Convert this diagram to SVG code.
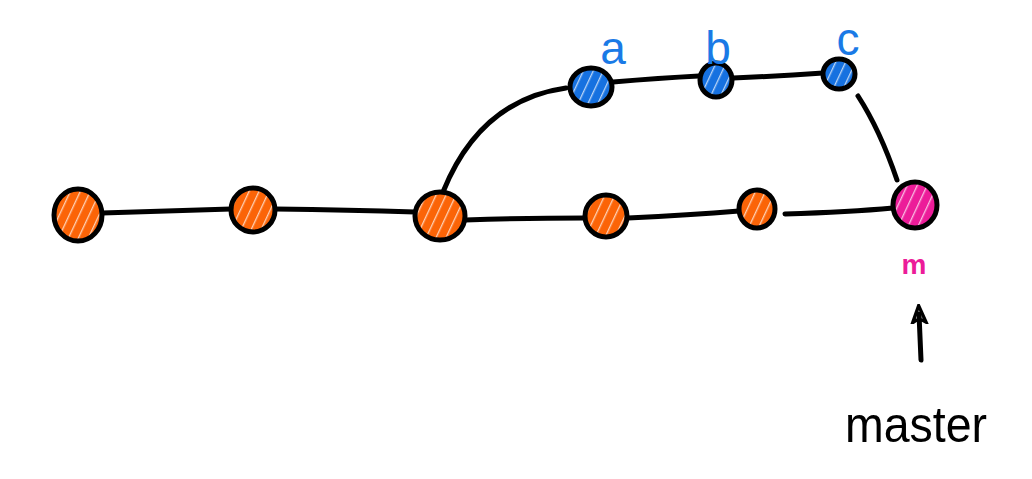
<svg xmlns="http://www.w3.org/2000/svg" width="1032" height="479" viewBox="0 0 1032 479">
<style>
.edge{fill:none;stroke:#000;stroke-width:5;stroke-linecap:round}
.node{stroke:#000;stroke-width:5}
.o{fill:url(#hO)}
.bl{fill:url(#hB)}
.mg{fill:url(#hM)}
.lblB{font-family:"Liberation Sans",sans-serif;font-size:46px;fill:#1a7ae6;text-anchor:middle}
.lblM{font-family:"Liberation Sans",sans-serif;font-size:28px;font-weight:bold;fill:#ec1c99;text-anchor:middle}
.lbl{font-family:"Liberation Sans",sans-serif;font-size:50px;fill:#000;text-anchor:middle}
</style>
<defs>
<pattern id="hO" width="9" height="9" patternUnits="userSpaceOnUse" patternTransform="rotate(25)">
<rect width="9" height="9" fill="#fb6407"/><rect x="0" width="1.3" height="9" fill="#fff" opacity="0.7"/>
</pattern>
<pattern id="hB" width="9" height="9" patternUnits="userSpaceOnUse" patternTransform="rotate(25)">
<rect width="9" height="9" fill="#1671e0"/><rect x="0" width="1.3" height="9" fill="#fff" opacity="0.7"/>
</pattern>
<pattern id="hM" width="9" height="9" patternUnits="userSpaceOnUse" patternTransform="rotate(25)">
<rect width="9" height="9" fill="#ec1c99"/><rect x="0" width="1.3" height="9" fill="#fff" opacity="0.7"/>
</pattern>
<marker id="arr" viewBox="0 0 12 12" refX="6" refY="6" markerWidth="4" markerHeight="4" orient="auto">
<path d="M1,2 L11,6 L1,10 Q4,6 1,2 Z" fill="none" stroke="#000" stroke-width="2"/>
</marker>
</defs>
<g id="connectors">
<path class="edge" d="M102,213 Q170,211 231,209"/>
<path class="edge" d="M275,209 Q350,210 415,212"/>
<path class="edge" d="M465,220 Q530,218 585,218"/>
<path class="edge" d="M628,218 Q690,215 739,211"/>
<path class="edge" d="M785,214 Q850,212 893,208"/>
<path class="edge" d="M443,192 Q480,100 566,88"/>
<path class="edge" d="M613,82 Q660,78 699,76"/>
<path class="edge" d="M733,78 Q780,76 823,73"/>
<path class="edge" d="M858,96 Q880,130 897,180"/>
</g>
<g id="n1"><ellipse class="node o" cx="78" cy="215" rx="24" ry="26"/></g>
<g id="n2"><ellipse class="node o" cx="253" cy="210" rx="22" ry="22"/></g>
<g id="n3"><ellipse class="node o" cx="440" cy="216" rx="25" ry="24"/></g>
<g id="n4"><ellipse class="node o" cx="606" cy="216" rx="21" ry="21"/></g>
<g id="n5"><ellipse class="node o" cx="757" cy="209" rx="18" ry="19"/></g>
<g id="nm"><ellipse class="node mg" cx="915" cy="205" rx="22" ry="23"/>
<text class="lblM" x="914" y="274">m</text></g>
<g id="na"><ellipse class="node bl" cx="591" cy="87" rx="21" ry="19"/>
<text class="lblB" x="613" y="64">a</text></g>
<g id="nb"><ellipse class="node bl" cx="716" cy="80" rx="16" ry="17"/>
<text class="lblB" x="718" y="64">b</text></g>
<g id="nc"><ellipse class="node bl" cx="839" cy="74" rx="16" ry="15"/>
<text class="lblB" x="848" y="55">c</text></g>
<g id="master">
<path class="edge" d="M921,360 L919,314" marker-end="url(#arr)" stroke-width="4"/>
<text class="lbl" x="916" y="442" textLength="142" lengthAdjust="spacingAndGlyphs">master</text>
</g>
</svg>
